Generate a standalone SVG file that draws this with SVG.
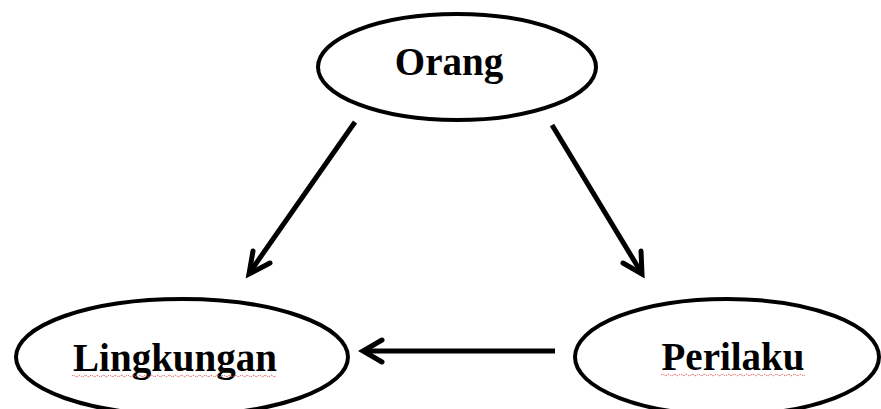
<svg xmlns="http://www.w3.org/2000/svg" width="881" height="409" viewBox="0 0 881 409">
  <style>
    .node { fill: #ffffff; stroke: #000000; stroke-width: 4; }
    .label { font-family: "Liberation Serif", "Times New Roman", serif; font-weight: bold; font-size: 39px; fill: #000000; text-anchor: middle; }
    .edge { fill: none; stroke: #000000; stroke-width: 5; stroke-linecap: butt; }
    .head { fill: none; stroke: #000000; stroke-width: 5; stroke-linecap: round; stroke-linejoin: miter; }
    .squiggle { fill: none; stroke: #e05050; stroke-width: 1; stroke-dasharray: 1.5 1; }
  </style>
  <rect width="881" height="409" fill="#ffffff"/>

  <g id="connectors">
    <!-- Orang to Lingkungan -->
    <line class="edge" x1="355" y1="122" x2="250" y2="272"/>
    <polyline class="head" points="253,251 249,274 270,263"/>
    <!-- Orang to Perilaku -->
    <line class="edge" x1="552" y1="125" x2="641" y2="272"/>
    <polyline class="head" points="641,251 642,274 623,263"/>
    <!-- Perilaku to Lingkungan -->
    <line class="edge" x1="555" y1="351" x2="364" y2="351"/>
    <polyline class="head" points="382,340 363,351 382,362"/>
  </g>

  <g id="node-orang">
    <ellipse class="node" cx="457" cy="67" rx="139" ry="53"/>
    <text class="label" x="449" y="75">Orang</text>
  </g>

  <g id="node-lingkungan">
    <ellipse class="node" cx="182" cy="357" rx="166" ry="58"/>
    <text class="label" x="175" y="371">Lingkungan</text>
    <path class="squiggle" d="M72,376 q1.5,-1.5 3,0 t3,0 t3,0 t3,0 t3,0 t3,0 t3,0 t3,0 t3,0 t3,0 t3,0 t3,0 t3,0 t3,0 t3,0 t3,0 t3,0 t3,0 t3,0 t3,0 t3,0 t3,0 t3,0 t3,0 t3,0 t3,0 t3,0 t3,0 t3,0 t3,0 t3,0 t3,0 t3,0 t3,0 t3,0 t3,0 t3,0 t3,0 t3,0 t3,0 t3,0 t3,0 t3,0 t3,0 t3,0 t3,0 t3,0 t3,0 t3,0 t3,0 t3,0 t3,0 t3,0 t3,0 t3,0 t3,0 t3,0 t3,0 t3,0 t3,0 t3,0 t3,0 t3,0 t3,0 t3,0 t3,0 t3,0 t3,0"/>
  </g>

  <g id="node-perilaku">
    <ellipse class="node" cx="727" cy="357" rx="152" ry="58"/>
    <text class="label" x="733" y="370">Perilaku</text>
    <path class="squiggle" d="M661,375 q1.5,-1.5 3,0 t3,0 t3,0 t3,0 t3,0 t3,0 t3,0 t3,0 t3,0 t3,0 t3,0 t3,0 t3,0 t3,0 t3,0 t3,0 t3,0 t3,0 t3,0 t3,0 t3,0 t3,0 t3,0 t3,0 t3,0 t3,0 t3,0 t3,0 t3,0 t3,0 t3,0 t3,0 t3,0 t3,0 t3,0 t3,0 t3,0 t3,0 t3,0 t3,0 t3,0 t3,0 t3,0 t3,0 t3,0 t3,0 t3,0 t3,0"/>
  </g>
</svg>
